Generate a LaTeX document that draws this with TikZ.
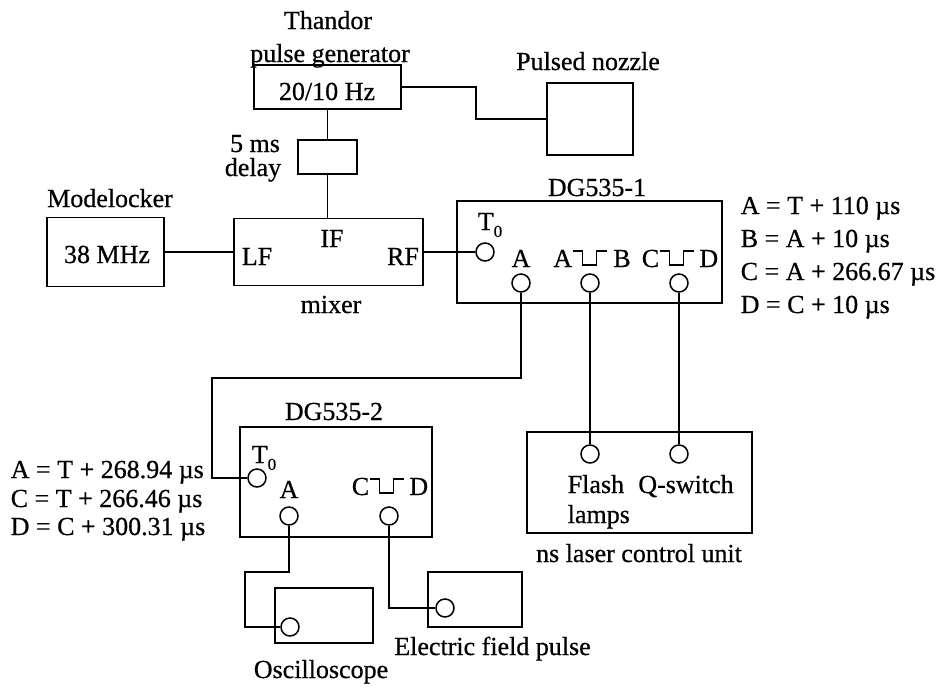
\documentclass[tikz,border=0pt]{standalone}
\usepackage{fontspec}
\setmainfont{Liberation Serif}[UprightFeatures={FakeBold=0.6}]

\newcommand{\pulsesym}{\tikz[baseline=0pt, line width=1.2pt] \draw (0pt,16pt) -- (10pt,16pt) -- (10pt,2pt) -- (24pt,2pt) -- (24pt,16pt) -- (34pt,16pt);}
\newcommand{\Tzero}{T\raisebox{-7pt}{\fontsize{17}{17}\selectfont 0}}

\begin{document}
\begin{tikzpicture}[x=1pt, y=-1pt, line width=1.5pt,
    every node/.style={font=\fontsize{26}{31}\selectfont, inner sep=0pt},
    box/.style n args={2}{draw, minimum width=#1, minimum height=#2},
    port/.style={draw, circle, minimum size=18pt},
    txt/.style={anchor=base}]
    \useasboundingbox (0,0) rectangle (937,686);

    % Thandor pulse generator
    \node[box={147}{44}] (thandor) at (327.5,87) {};
    \node[txt] (thandorlbl) at (328,29) {Thandor};
    \node[txt] (pulselbl) at (330,62) {pulse generator};
    \node[txt] (hzlbl) at (327,100) {20/10 Hz};

    % Pulsed nozzle
    \node[box={86}{72}] (nozzle) at (590,119) {};
    \node[txt] (nozzlelbl) at (588,70) {Pulsed nozzle};

    % 5 ms delay
    \node[box={59}{34}] (delay) at (327.5,157) {};
    \node[txt] (delaylbl) at (255,152) {5 ms};
    \node[txt] (delaylblb) at (253,176) {delay};

    % Modelocker
    \node[box={117}{69}] (modelocker) at (105.5,252) {};
    \node[txt] (modelockerlbl) at (110,207) {Modelocker};
    \node[txt] (mhzlbl) at (107,263) {38 MHz};

    % mixer
    \node[box={189}{67}] (mixer) at (328.5,252) {};
    \node[txt] (lflbl) at (257,265) {LF};
    \node[txt] (iflbl) at (332,247) {IF};
    \node[txt] (rflbl) at (403,265) {RF};
    \node[txt] (mixerlbl) at (331,313) {mixer};

    % DG535-1
    \node[box={265}{102}] (dg1) at (589.5,252) {};
    \node[txt] (dgalbl) at (597,196) {DG535-1};
    \node[port] (t01) at (485,252) {};
    \node[txt] (t01lbl) at (490,230) {\Tzero};
    \node[port] (a1) at (521,283) {};
    \node[txt] (a1lbl) at (521,267) {A};
    \node[port] (ab1) at (590,283) {};
    \node[txt] (ab1lbl) at (592,267) {A\pulsesym\kern6pt B};
    \node[port] (cd1) at (679,283) {};
    \node[txt] (cd1lbl) at (680,267) {C\pulsesym\kern5pt D};
    \node[anchor=base west] (eqa1) at (740,214) {A = T + 110 µs};
    \node[anchor=base west] (eqb1) at (740,247) {B = A + 10 µs};
    \node[anchor=base west] (eqc1) at (740,280) {C = A + 266.67 µs};
    \node[anchor=base west] (eqd1) at (740,313) {D = C + 10 µs};

    % DG535-2
    \node[box={192}{110}] (dg2) at (336,482) {};
    \node[txt] (dgblbl) at (334,420) {DG535-2};
    \node[port] (t02) at (257,478) {};
    \node[txt] (t02lbl) at (264,463) {\Tzero};
    \node[port] (a2) at (289,516) {};
    \node[txt] (a2lbl) at (289,498) {A};
    \node[port] (cd2) at (389,516) {};
    \node[txt] (cd2lbl) at (390,495) {C\pulsesym\kern5pt D};
    \node[anchor=base west] (eqa2) at (10,478) {A = T + 268.94 µs};
    \node[anchor=base west] (eqc2) at (10,507) {C = T + 266.46 µs};
    \node[anchor=base west] (eqd2) at (10,535) {D = C + 300.31 µs};

    % ns laser control unit
    \node[box={225}{101}] (laser) at (639.5,482.5) {};
    \node[port] (flash) at (590,454) {};
    \node[port] (qsw) at (679,454) {};
    \node[anchor=base west] (flashlbl) at (567,493) {Flash};
    \node[anchor=base west] (lampslbl) at (567,523) {lamps};
    \node[txt] (qswlbl) at (686,493) {Q-switch};
    \node[txt] (laserlbl) at (639,562) {ns laser control unit};

    % Oscilloscope and field pulse
    \node[box={98}{55}] (osc) at (324,615.5) {};
    \node[port] (oscin) at (290,627) {};
    \node[txt] (osclbl) at (321,678) {Oscilloscope};
    \node[box={94}{55}] (field) at (475,599.5) {};
    \node[port] (fieldin) at (445,608) {};
    \node[txt] (fieldlbl) at (492.5,655) {Electric field pulse};

    % Cables
    \coordinate (bend1) at (212,378);
    \coordinate (bend2) at (245,572);
    \draw (thandor.east) -- ++(74,0) |- (nozzle.west);
    \draw (thandor.south) -- (delay.north);
    \draw (delay.south) -- (delay.south |- mixer.north);
    \draw (modelocker.east) -- (mixer.west);
    \draw (mixer.east) -- (t01.west);
    \draw (a1.south) |- (bend1) |- (t02.west);
    \draw (ab1.south) -- (flash.north);
    \draw (cd1.south) -- (qsw.north);
    \draw (a2.south) |- (bend2) |- (oscin.west);
    \draw (cd2.south) |- (fieldin.west);
\end{tikzpicture}
\end{document}
